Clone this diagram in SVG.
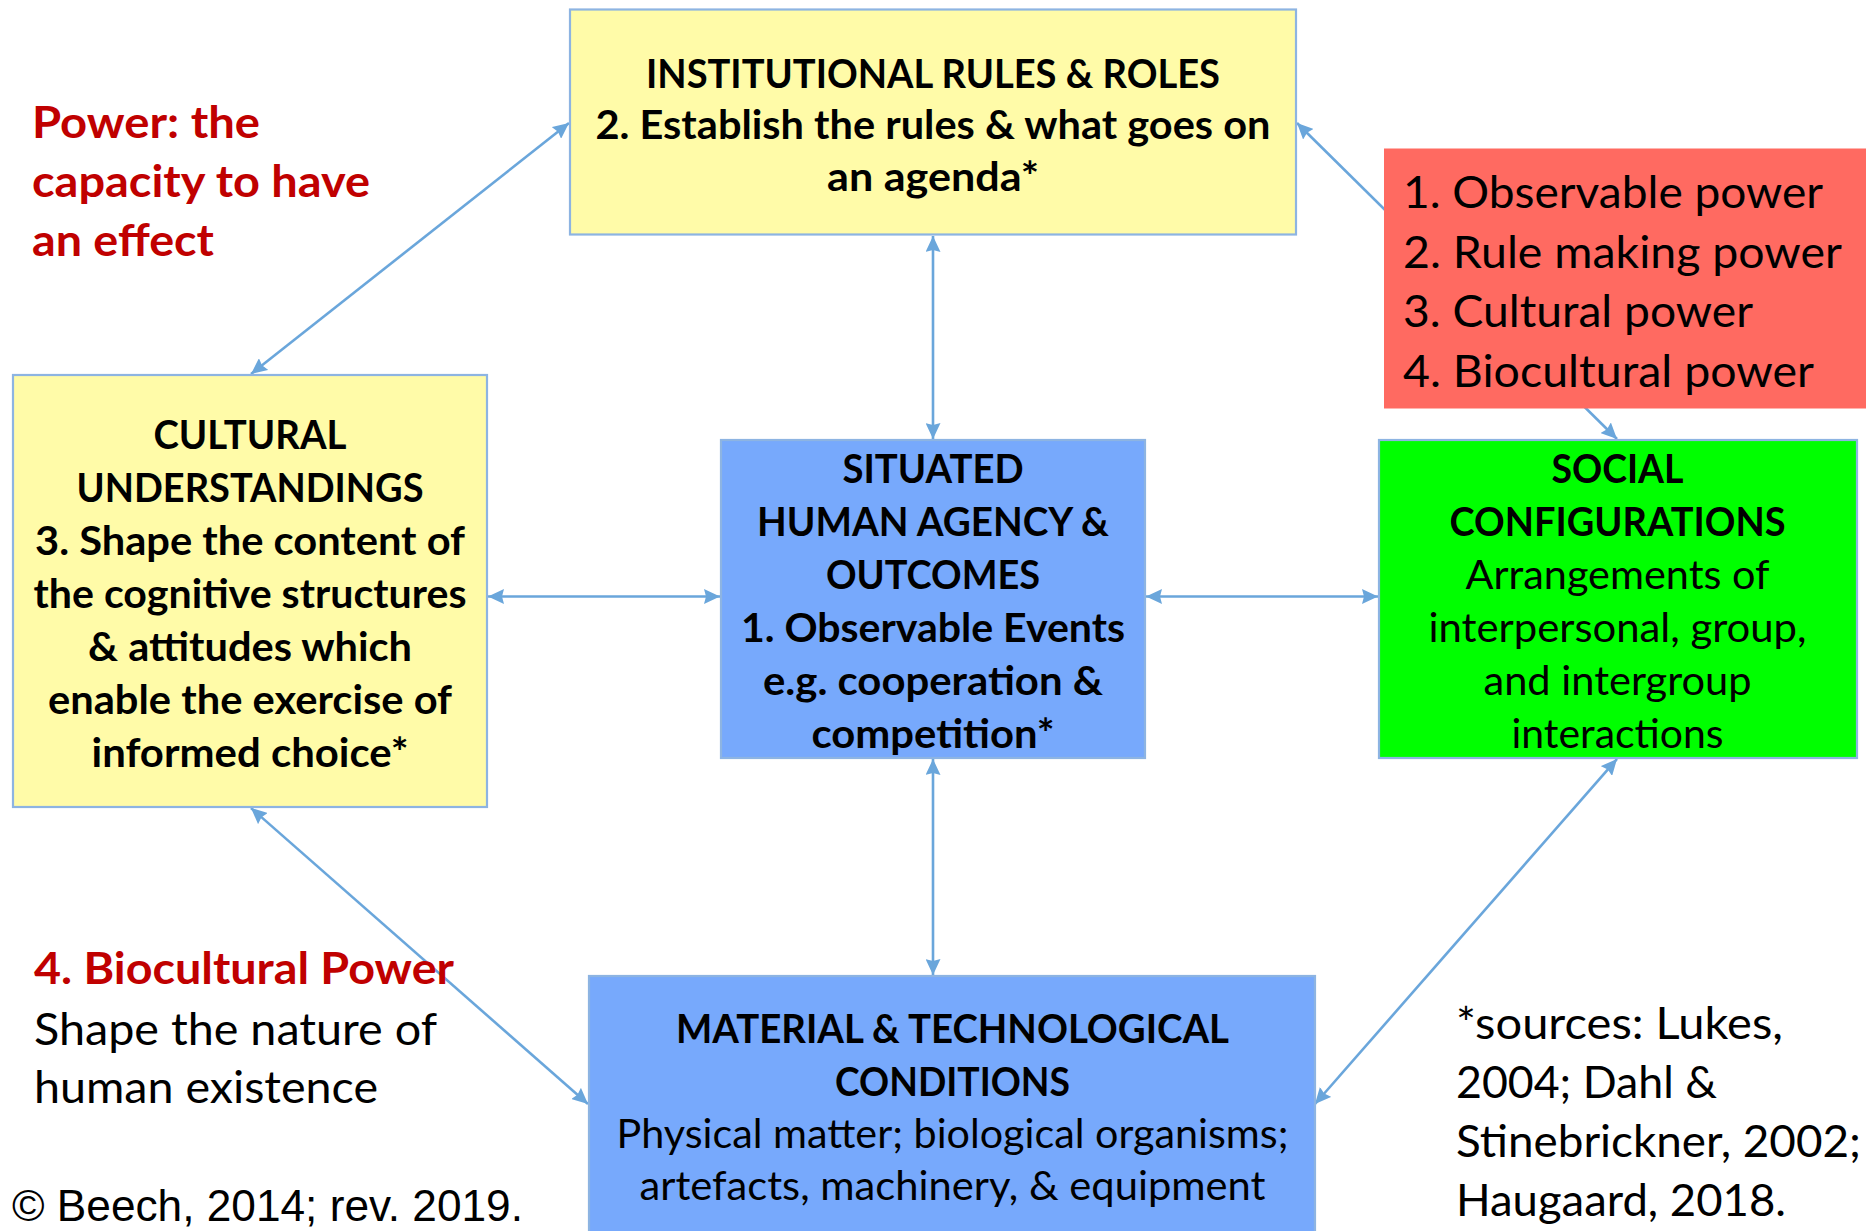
<svg xmlns="http://www.w3.org/2000/svg" width="1866" height="1231" viewBox="0 0 1866 1231">
<style>
.t{font-family:Lato,"Liberation Sans",sans-serif;fill:#000}
.b{font-weight:700;font-size:40px}
.r{font-weight:400;font-size:40px}
.m{text-anchor:middle}
.big{font-size:44.5px}
.red{fill:#C00000}
.box{stroke:#8DB4E2;stroke-width:2.2}
.conn{stroke:#6AA6DB;stroke-width:2.6;fill:none;marker-start:url(#ah);marker-end:url(#ah)}
</style>
<defs>
<marker id="ah" viewBox="0 0 16 15" refX="16" refY="7.5" markerWidth="16" markerHeight="15" markerUnits="userSpaceOnUse" orient="auto-start-reverse">
<path d="M0,0 L16,7.5 L0,15 L2,7.5 z" fill="#6AA6DB"/>
</marker>
</defs>
<rect width="1866" height="1231" fill="#fff"/>
<g id="connectors">
<line class="conn" x1="933" y1="236" x2="933" y2="439"/>
<line class="conn" x1="933" y1="759" x2="933" y2="975"/>
<line class="conn" x1="488" y1="596.5" x2="720" y2="596.5"/>
<line class="conn" x1="1146" y1="596.5" x2="1378" y2="596.5"/>
<line class="conn" x1="251" y1="374" x2="569" y2="123"/>
<line class="conn" x1="251" y1="808" x2="588" y2="1104"/>
<line class="conn" x1="1617" y1="759" x2="1315" y2="1104"/>
<line class="conn" x1="1297" y1="123" x2="1617" y2="439"/>
</g>
<g id="institutional">
<rect class="box" x="570" y="9.5" width="726" height="225" fill="#FFFBA8"/>
<text class="t b m" x="933" y="87.5" textLength="574" lengthAdjust="spacingAndGlyphs">INSTITUTIONAL RULES &amp; ROLES</text>
<text class="t b m" x="933" y="139" textLength="675" lengthAdjust="spacingAndGlyphs">2. Establish the rules &amp; what goes on</text>
<text class="t b m" x="933" y="190.5" textLength="212" lengthAdjust="spacingAndGlyphs">an agenda*</text>
</g>
<g id="cultural">
<rect class="box" x="13" y="375" width="474" height="432" fill="#FFFBA8"/>
<text class="t b m" x="250" y="448.7" textLength="193" lengthAdjust="spacingAndGlyphs">CULTURAL</text>
<text class="t b m" x="250" y="501.7" textLength="347" lengthAdjust="spacingAndGlyphs">UNDERSTANDINGS</text>
<text class="t b m" x="250" y="554.6" textLength="430" lengthAdjust="spacingAndGlyphs">3. Shape the content of</text>
<text class="t b m" x="250" y="607.6" textLength="433" lengthAdjust="spacingAndGlyphs">the cognitive structures</text>
<text class="t b m" x="250" y="660.6" textLength="324" lengthAdjust="spacingAndGlyphs">&amp; attitudes which</text>
<text class="t b m" x="250" y="713.5" textLength="404" lengthAdjust="spacingAndGlyphs">enable the exercise of</text>
<text class="t b m" x="250" y="766.5" textLength="317" lengthAdjust="spacingAndGlyphs">informed choice*</text>
</g>
<g id="situated">
<rect class="box" x="721" y="440" width="424" height="318" fill="#77A9FC"/>
<text class="t b m" x="933" y="482.9" textLength="181" lengthAdjust="spacingAndGlyphs">SITUATED</text>
<text class="t b m" x="933" y="535.9" textLength="352" lengthAdjust="spacingAndGlyphs">HUMAN AGENCY &amp;</text>
<text class="t b m" x="933" y="588.9" textLength="214" lengthAdjust="spacingAndGlyphs">OUTCOMES</text>
<text class="t b m" x="933" y="641.9" textLength="384" lengthAdjust="spacingAndGlyphs">1. Observable Events</text>
<text class="t b m" x="933" y="694.9" textLength="340" lengthAdjust="spacingAndGlyphs">e.g. cooperation &amp;</text>
<text class="t b m" x="933" y="747.9" textLength="243" lengthAdjust="spacingAndGlyphs">competition*</text>
</g>
<g id="social">
<rect class="box" x="1379" y="440" width="478" height="318" fill="#00FF00"/>
<text class="t b m" x="1617.5" y="482.9" textLength="132" lengthAdjust="spacingAndGlyphs">SOCIAL</text>
<text class="t b m" x="1617.5" y="535.9" textLength="336" lengthAdjust="spacingAndGlyphs">CONFIGURATIONS</text>
<text class="t r m" x="1617.5" y="588.9" textLength="304" lengthAdjust="spacingAndGlyphs">Arrangements of</text>
<text class="t r m" x="1617.5" y="641.9" textLength="378" lengthAdjust="spacingAndGlyphs">interpersonal, group,</text>
<text class="t r m" x="1617.5" y="694.9" textLength="268" lengthAdjust="spacingAndGlyphs">and intergroup</text>
<text class="t r m" x="1617.5" y="747.9" textLength="212" lengthAdjust="spacingAndGlyphs">interactions</text>
</g>
<g id="power-types">
<rect x="1384" y="148.5" width="482" height="260" fill="#FF6A61"/>
<text class="t r big" x="1403" y="208.4" textLength="420" lengthAdjust="spacingAndGlyphs">1. Observable power</text>
<text class="t r big" x="1403" y="267.8" textLength="439" lengthAdjust="spacingAndGlyphs">2. Rule making power</text>
<text class="t r big" x="1403" y="327.2" textLength="350" lengthAdjust="spacingAndGlyphs">3. Cultural power</text>
<text class="t r big" x="1403" y="386.6" textLength="411" lengthAdjust="spacingAndGlyphs">4. Biocultural power</text>
</g>
<g id="material">
<rect class="box" x="589" y="976" width="726" height="258" fill="#77A9FC"/>
<text class="t b m" x="952.5" y="1043.3" textLength="553" lengthAdjust="spacingAndGlyphs">MATERIAL &amp; TECHNOLOGICAL</text>
<text class="t b m" x="952.5" y="1096" textLength="235" lengthAdjust="spacingAndGlyphs">CONDITIONS</text>
<text class="t r m" x="952.5" y="1147.8" textLength="672" lengthAdjust="spacingAndGlyphs">Physical matter; biological organisms;</text>
<text class="t r m" x="952.5" y="1200.3" textLength="626" lengthAdjust="spacingAndGlyphs">artefacts, machinery, &amp; equipment</text>
</g>
<g id="power-definition">
<text class="t b big red" x="32" y="137.5" textLength="228" lengthAdjust="spacingAndGlyphs">Power: the</text>
<text class="t b big red" x="32" y="196.5" textLength="338" lengthAdjust="spacingAndGlyphs">capacity to have</text>
<text class="t b big red" x="32" y="255.5" textLength="182" lengthAdjust="spacingAndGlyphs">an effect</text>
</g>
<g id="biocultural">
<text class="t b big red" x="34" y="984" textLength="420" lengthAdjust="spacingAndGlyphs">4. Biocultural Power</text>
<text class="t r big" x="34" y="1044.5" textLength="403" lengthAdjust="spacingAndGlyphs">Shape the nature of</text>
<text class="t r big" x="34" y="1103.3" textLength="344" lengthAdjust="spacingAndGlyphs">human existence</text>
</g>
<g id="copyright">
<text x="12" y="1220.7" font-family="'Liberation Sans',Arial,sans-serif" font-size="44" textLength="511" lengthAdjust="spacingAndGlyphs">© Beech, 2014; rev. 2019.</text>
</g>
<g id="sources">
<text class="t r big" x="1456" y="1038.9" textLength="327" lengthAdjust="spacingAndGlyphs">*sources: Lukes,</text>
<text class="t r big" x="1456" y="1097.9" textLength="261" lengthAdjust="spacingAndGlyphs">2004; Dahl &amp;</text>
<text class="t r big" x="1456" y="1156.9" textLength="405" lengthAdjust="spacingAndGlyphs">Stinebrickner, 2002;</text>
<text class="t r big" x="1456" y="1216" textLength="330" lengthAdjust="spacingAndGlyphs">Haugaard, 2018.</text>
</g>
</svg>
